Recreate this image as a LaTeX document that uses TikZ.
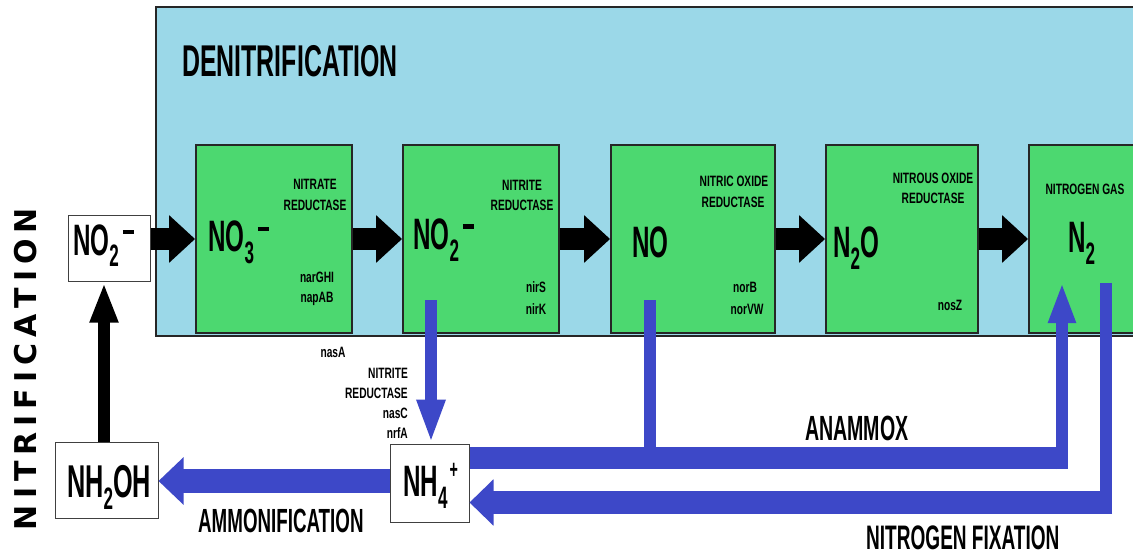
\documentclass[tikz,border=0pt]{standalone}
\usepackage{fontspec}
\usetikzlibrary{arrows.meta}
\newfontfamily\bigbf[FakeStretch=0.56]{Liberation Sans}
\newfontfamily\chemf[FakeStretch=0.55]{Liberation Sans}
\newfontfamily\smallbf[FakeStretch=0.68]{Liberation Sans}
\newfontfamily\widebf{DejaVu Sans}
\definecolor{bgblue}{HTML}{9BD8E8}
\definecolor{boxgreen}{HTML}{4CD870}
\definecolor{arrblue}{HTML}{3D48C8}
\newcommand{\chemsub}[1]{\raisebox{-12pt}{\fontsize{31pt}{31pt}\selectfont #1}}
\newcommand{\chemminus}{\kern4pt\raisebox{21pt}{\rule{11pt}{4.5pt}}}
\begin{document}
\begin{tikzpicture}[x=1pt,y=-1pt,
  bgrect/.style={draw=black!85, line width=1.8pt, fill=bgblue, inner sep=0},
  gbox/.style={draw=black!85, line width=1.8pt, fill=boxgreen, inner sep=0, minimum height=188pt},
  wbox/.style={draw=black!75, line width=1pt, fill=white, inner sep=0},
  chem/.style={inner sep=0, anchor=base west, font=\chemf\bfseries\fontsize{44pt}{44pt}\selectfont},
  enz/.style={inner sep=0, font=\smallbf\bfseries\fontsize{15pt}{15pt}\selectfont, text height=10.7pt, text depth=0pt},
  ttl/.style={inner sep=0, anchor=base west},
  blk/.style={line width=22pt, black, -{Triangle[length=26pt,width=46pt]}},
  blu/.style={arrblue}]
\useasboundingbox (0,0) rectangle (1133,556);
\clip (0,0) rectangle (1133,556);
\fill[white] (0,0) rectangle (1133,556);

% background panel and boxes
\node[bgrect, minimum width=994pt, minimum height=329pt] (bg) at (653,171.5) {};
\node[gbox, minimum width=156pt] (g1) at (274,239) {};
\node[gbox, minimum width=156pt] (g2) at (481,239) {};
\node[gbox, minimum width=164pt] (g3) at (693,239) {};
\node[gbox, minimum width=152pt] (g4) at (902,239) {};
\node[gbox, minimum width=171pt] (g5) at (1114.5,239) {};
\node[wbox, minimum width=82pt, minimum height=66pt] (w1) at (109,249) {};
\node[wbox, minimum width=103pt, minimum height=76pt] (nh2oh) at (106.5,480) {};
\node[wbox, minimum width=79pt, minimum height=78pt] (nh4) at (429.5,483) {};

% coordinates
\coordinate (upx) at (104,0);
\coordinate (no2out) at (431,300);
\coordinate (noout) at (650,300);
\coordinate (anaC) at (1062,458);
\coordinate (anaE) at (1068,458);
\coordinate (anaB) at (1062,469);
\coordinate (anaTip) at (1062,282);
\coordinate (fixS) at (1106,283);
\coordinate (fixB) at (1106,514);
\coordinate (fixR) at (1112,502.5);
\coordinate (ammY) at (0,481);

% black arrows
\draw[blk] (w1.east |- g1.west) -- (g1.west);
\draw[blk] (g1.east) -- (g2.west);
\draw[blk] (g2.east) -- (g3.west);
\draw[blk] (g3.east) -- (g4.west);
\draw[blk] (g4.east) -- (g5.west);
\draw[line width=12pt, black, -{Triangle[length=40pt,width=26pt]}] (nh2oh.north -| upx) -- (w1.south -| upx);

% blue arrows
\draw[blu, line width=12pt, -{Triangle[length=44pt,width=26pt]}] (no2out) -- (nh4.north -| no2out);
\draw[blu, line width=12pt] (noout) -- (noout |- anaB);
\draw[blu, line width=22pt] (nh4.east |- anaC) -- (anaE);
\draw[blu, line width=12pt, -{Triangle[length=41pt,width=25pt]}] (anaB) -- (anaTip);
\draw[blu, line width=12pt] (fixS) -- (fixB);
\draw[blu, line width=23pt, -{Triangle[length=24pt,width=45pt]}] (fixR) -- (nh4.east |- fixR);
\draw[blu, line width=24pt, -{Triangle[length=25pt,width=46pt]}] (nh4.west |- ammY) -- (nh2oh.east |- ammY);

% chemical labels
\node[chem] (lw1) at (73,255) {NO\chemsub{2}\chemminus};
\node[chem] (lg1) at (208,252) {NO\chemsub{3}\chemminus};
\node[chem] (lg2) at (413,250) {NO\chemsub{2}\chemminus};
\node[chem] (lg3) at (632,258) {NO};
\node[chem] (lg4) at (833,258) {N\chemsub{2}O};
\node[chem] (lg5) at (1068,253) {N\chemsub{2}};
\node[chem, font=\chemf\bfseries\fontsize{46pt}{46pt}\selectfont] (lnh2oh) at (67,497) {NH\chemsub{2}OH};
\node[chem] (lnh4) at (403,496) {NH\chemsub{4}\kern2pt\raisebox{18pt}{\fontsize{26pt}{26pt}\selectfont +}};

% enzyme labels
\node[enz] (e1a) at (315,184) {NITRATE};
\node[enz] (e1b) at (315,205) {REDUCTASE};
\node[enz] (e1c) at (317,277) {narGHI};
\node[enz] (e1d) at (317,297) {napAB};
\node[enz] (e2a) at (522,185) {NITRITE};
\node[enz] (e2b) at (522,205) {REDUCTASE};
\node[enz] (e2c) at (536,287) {nirS};
\node[enz] (e2d) at (536,309) {nirK};
\node[enz] (e3a) at (734,181) {NITRIC OXIDE};
\node[enz] (e3b) at (733,202) {REDUCTASE};
\node[enz] (e3c) at (745,287) {norB};
\node[enz] (e3d) at (747,309) {norVW};
\node[enz] (e4a) at (933,178) {NITROUS OXIDE};
\node[enz] (e4b) at (933,198) {REDUCTASE};
\node[enz] (e4c) at (950,305) {nosZ};
\node[enz] (e5a) at (1085,189) {NITROGEN GAS};
\node[enz] (nasa) at (333,352) {nasA};
\node[enz, anchor=east] (r1) at (408,373) {NITRITE};
\node[enz, anchor=east] (r2) at (408,393) {REDUCTASE};
\node[enz, anchor=east] (r3) at (408,413) {nasC};
\node[enz, anchor=east] (r4) at (408,433) {nrfA};

% titles
\node[ttl, font=\bigbf\bfseries\fontsize{44.5pt}{44.5pt}\selectfont] (tden) at (182,77) {DENITRIFICATION};
\node[ttl, font=\bigbf\bfseries\fontsize{33.5pt}{33.5pt}\selectfont] (tamm) at (198,532) {AMMONIFICATION};
\node[ttl, font=\bigbf\bfseries\fontsize{35pt}{35pt}\selectfont] (tana) at (805,440) {ANAMMOX};
\node[ttl, font=\bigbf\bfseries\fontsize{34pt}{34pt}\selectfont] (tfix) at (866,549) {NITROGEN FIXATION};
\node[rotate=90, inner sep=0, font=\widebf\bfseries\fontsize{30pt}{30pt}\selectfont, text height=22pt, text depth=0pt] (tnit) at (25,369)
  {N\kern6pt I\kern6pt T\kern6pt R\kern6pt I\kern6pt F\kern6pt I\kern6pt C\kern6pt A\kern6pt T\kern6pt I\kern6pt O\kern6pt N};
\end{tikzpicture}
\end{document}
